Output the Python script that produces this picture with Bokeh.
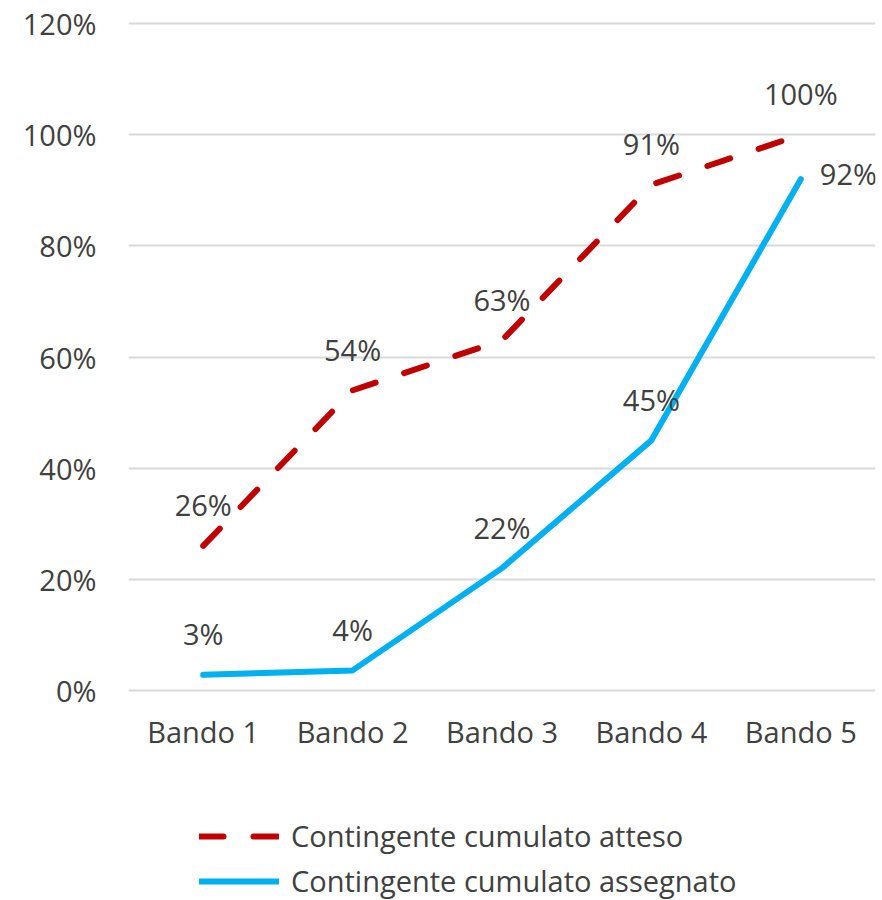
from bokeh.plotting import figure
from bokeh.layouts import column
from bokeh.models import ColumnDataSource, Range1d, FactorRange, NumeralTickFormatter, FixedTicker, Legend, LegendItem
from bokeh.core.properties import value
from bokeh.embed import file_html
from bokeh.resources import INLINE

# Data
categories = ["Bando 1", "Bando 2", "Bando 3", "Bando 4", "Bando 5"]
atteso = [0.26, 0.54, 0.63, 0.91, 1.00]
assegnato = [0.028, 0.036, 0.22, 0.45, 0.92]
y_ticks = [0.0, 0.2, 0.4, 0.6, 0.8, 1.0, 1.2]
series_names = ["Contingente cumulato atteso", "Contingente cumulato assegnato"]

FONT = "Open Sans"
TEXT_COLOR = "#404040"
RED = "#C00000"
BLUE = "#00B0F0"
FS = "29px"
RED_DASH = "24 30"

x_range = FactorRange(*categories, range_padding=0)

p = figure(
    width=882, height=800,
    x_range=x_range,
    y_range=Range1d(-0.02, 1.22),
    output_backend="svg", toolbar_location=None,
    min_border_left=128, min_border_right=7,
    min_border_top=12, min_border_bottom=99,
)
p.outline_line_color = None
p.background_fill_color = "white"
p.border_fill_color = "white"

# Axes
p.yaxis.ticker = FixedTicker(ticks=y_ticks)
p.yaxis.formatter = NumeralTickFormatter(format="0%")
for ax in (p.xaxis[0], p.yaxis[0]):
    ax.axis_line_color = None
    ax.major_tick_line_color = None
    ax.minor_tick_line_color = None
    ax.major_label_text_font = FONT
    ax.major_label_text_font_size = FS
    ax.major_label_text_color = TEXT_COLOR
p.yaxis.major_label_standoff = 26
p.xaxis.major_label_standoff = 4

p.xgrid.grid_line_color = None
p.ygrid.ticker = FixedTicker(ticks=y_ticks)
p.ygrid.grid_line_color = "#D9D9D9"
p.ygrid.grid_line_width = 2

src = ColumnDataSource(dict(
    x=categories,
    atteso=atteso,
    assegnato=assegnato,
    atteso_lbl=[f"{v:.0%}" for v in atteso],
))

line_red = dict(line_color=RED, line_width=6, line_dash=RED_DASH,
                line_cap="round", line_join="round")
line_blue = dict(line_color=BLUE, line_width=6, line_cap="round", line_join="round")

p.line("x", "atteso", source=src, **line_red)
p.line("x", "assegnato", source=src, **line_blue)

# Data labels
p.text("x", "atteso", text="atteso_lbl", source=src, y_offset=-41,
       text_align="center", text_baseline="middle",
       text_font=value(FONT), text_font_size=FS, text_color=TEXT_COLOR)

src_b1 = ColumnDataSource(dict(x=categories[:4], y=assegnato[:4],
                               t=[f"{v:.0%}" for v in assegnato[:4]]))
src_b2 = ColumnDataSource(dict(x=categories[4:], y=assegnato[4:],
                               t=[f"{v:.0%}" for v in assegnato[4:]]))
p.text("x", "y", text="t", source=src_b1, y_offset=-41,
       text_align="center", text_baseline="middle",
       text_font=value(FONT), text_font_size=FS, text_color=TEXT_COLOR)
p.text("x", "y", text="t", source=src_b2, x_offset=19, y_offset=-6,
       text_align="left", text_baseline="middle",
       text_font=value(FONT), text_font_size=FS, text_color=TEXT_COLOR)

# Legend strip under the chart; its key lines use the same series but sit
# outside the strip's visible y range, so only the legend keys show.
leg = figure(
    width=882, height=100,
    x_range=x_range, y_range=Range1d(5, 6),
    output_backend="svg", toolbar_location=None,
    min_border=0, outline_line_color=None,
)
leg.axis.visible = False
leg.grid.visible = False
k_red = leg.line("x", "atteso", source=src, **line_red)
k_blue = leg.line("x", "assegnato", source=src, **line_blue)

legend = Legend(
    items=[
        LegendItem(label=series_names[0], renderers=[k_red]),
        LegendItem(label=series_names[1], renderers=[k_blue]),
    ],
    location=(71, 0),
    orientation="vertical",
    glyph_width=80, glyph_height=34, label_height=34,
    spacing=6, padding=0, margin=0, label_standoff=12,
    label_text_font=FONT, label_text_font_size=FS, label_text_color=TEXT_COLOR,
    border_line_color=None, background_fill_alpha=0,
)
leg.add_layout(legend, "center")

open("out.html", "w").write(file_html(column(p, leg, spacing=0), INLINE))
